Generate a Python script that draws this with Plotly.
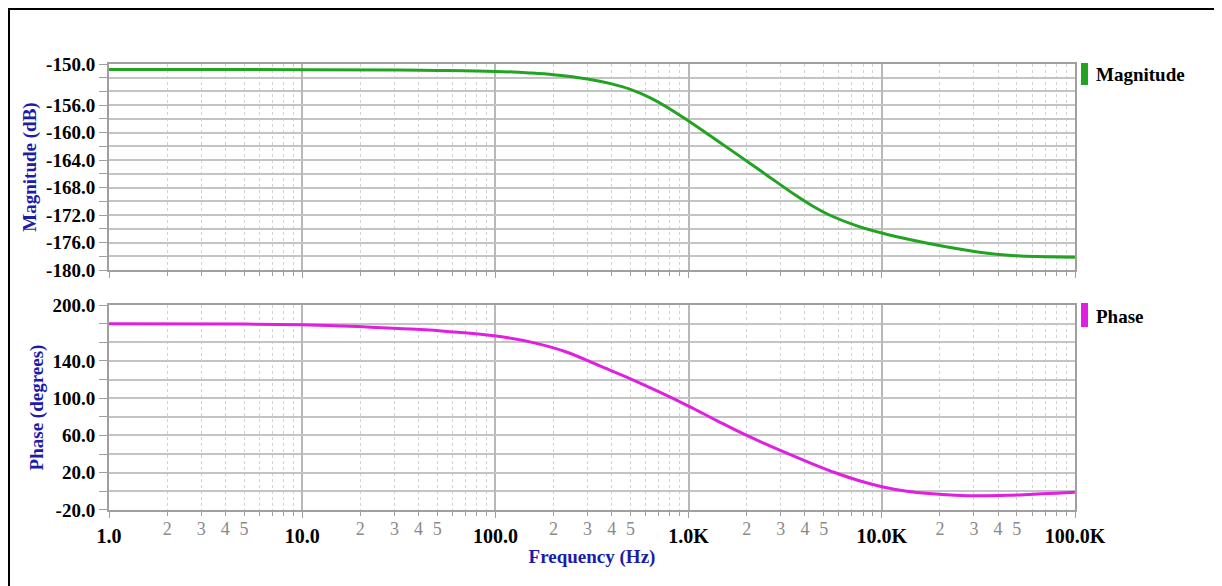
import plotly.graph_objects as go

# ---------------- data ----------------
freq_mag = [1, 10, 32, 50, 100, 150, 200, 300, 400, 500, 630, 800, 1000, 1300,
            1700, 2500, 3600, 4400, 5500, 7500, 10000, 14500, 21500, 32000,
            47000, 70000, 100000]
magnitude_db = [-150.8, -150.82, -150.87, -150.93, -151.08, -151.3, -151.55,
                -152.17, -152.9, -153.7, -154.9, -156.54, -158.3, -160.49,
                -162.76, -166.04, -169.15, -170.7, -172.13, -173.6, -174.6,
                -175.65, -176.6, -177.4, -177.88, -178.05, -178.15]

freq_phase = [1, 5, 10, 16, 24, 39, 58, 101, 157, 233, 347, 500, 700, 1000,
              1400, 2000, 3200, 4500, 5800, 7500, 10000, 13500, 17600, 24000,
              32000, 45000, 58000, 80000, 100000]
phase_deg = [180, 179.6, 178.8, 177.5, 176.0, 173.9, 171.4, 166.7, 159.6, 149.6,
             134.6, 120.8, 107.0, 91.5, 76.0, 60.0, 41.2, 28.5, 19.7, 11.9, 5.0,
             0.1, -2.4, -4.2, -4.8, -4.3, -3.3, -1.9, -1.0]

decades = [1, 10, 100, 1000, 10000, 100000]
decade_labels = ["1.0", "10.0", "100.0", "1.0K", "10.0K", "100.0K"]
minor_multipliers = [2, 3, 4, 5, 6, 7, 8, 9]
labelled_multipliers = [2, 3, 4, 5]

mag_ticks = [-180, -176, -172, -168, -164, -160, -156, -150]
mag_grid = list(range(-180, -149, 2))
phase_ticks = [-20, 20, 60, 100, 140, 200]
phase_grid = list(range(-20, 201, 20))

# ---------------- styling ----------------
FONT = "Liberation Serif"
GREEN = "#22a322"
MAGENTA = "#e01fe0"
NAVY = "#1c1ca8"
GRID = "#c4c4c4"
AXIS = "#a0a0a0"

minor_vals = [d * m for d in decades[:-1] for m in minor_multipliers]
minor_lbl_vals = [d * m for d in decades[:-1] for m in labelled_multipliers]
minor_lbl_text = [str(m) for d in decades[:-1] for m in labelled_multipliers]

fig = go.Figure()
fig.add_trace(go.Scatter(x=freq_mag, y=magnitude_db, mode="lines",
                         line=dict(color=GREEN, width=3, shape="spline", smoothing=1.0),
                         xaxis="x", yaxis="y", showlegend=False, hoverinfo="skip"))
fig.add_trace(go.Scatter(x=freq_phase, y=phase_deg, mode="lines",
                         line=dict(color=MAGENTA, width=3, shape="spline", smoothing=1.0),
                         xaxis="x2", yaxis="y2", showlegend=False, hoverinfo="skip"))
# carrier trace for the overlay axis that holds the grey minor labels
fig.add_trace(go.Scatter(x=[decades[0], decades[-1]], y=[None, None], mode="lines",
                         xaxis="x3", yaxis="y2", showlegend=False, hoverinfo="skip"))

def xaxis_common():
    return dict(
        type="log", range=[0, 5],
        tickvals=decades, showgrid=True, gridcolor="#b8b8b8", gridwidth=2,
        ticks="outside", ticklen=6, tickcolor=AXIS, tickwidth=1,
        showline=True, linecolor=AXIS, linewidth=2, mirror=True,
        zeroline=False,
        minor=dict(tickvals=minor_vals, showgrid=True, gridcolor="#d2d2d2",
                   griddash="dot", gridwidth=1, ticks="outside", ticklen=4,
                   tickcolor=AXIS),
    )

xa1 = xaxis_common()
xa1.update(anchor="y", showticklabels=False)
xa2 = xaxis_common()
xa2.update(anchor="y2", ticktext=decade_labels, ticklabelstandoff=1,
           tickfont=dict(family=FONT, size=20, color="black", weight="bold"),
           title=dict(text="<b>Frequency (Hz)</b>", standoff=4,
                      font=dict(family=FONT, size=19, color=NAVY)))
xa3 = dict(type="log", range=[0, 5], overlaying="x2", anchor="y2", side="bottom",
           tickvals=minor_lbl_vals, ticktext=minor_lbl_text, ticks="",
           showgrid=False, showline=False, zeroline=False, ticklabelstandoff=6,
           tickfont=dict(family=FONT, size=18, color="#8a8a8a"))

def yaxis_common(rng, ticks, grid):
    return dict(
        range=rng, tickvals=ticks, ticktext=[f"{v:.1f}" for v in ticks],
        showgrid=True, gridcolor=GRID, gridwidth=2,
        ticks="outside", ticklen=8, tickcolor=AXIS,
        showline=True, linecolor=AXIS, linewidth=2, mirror=True, zeroline=False,
        tickfont=dict(family=FONT, size=19, color="black", weight="bold"),
        minor=dict(tickvals=grid, showgrid=True, gridcolor=GRID, gridwidth=2,
                   ticks="outside", ticklen=8, tickcolor=AXIS),
    )

ya1 = yaxis_common([-180, -150], mag_ticks, mag_grid)
ya1.update(domain=[0.538, 1.0], anchor="x",
           title=dict(text="<b>Magnitude (dB)</b>", standoff=4,
                      font=dict(family=FONT, size=19, color=NAVY)))
ya2 = yaxis_common([-20, 200], phase_ticks, phase_grid)
ya2.update(domain=[0.0, 0.4596], anchor="x2",
           title=dict(text="<b>Phase (degrees)</b>", standoff=4,
                      font=dict(family=FONT, size=19, color=NAVY)))

# The page body has an 8px margin, so the figure is offset by 8px.
OFF = 8
FIG_W, FIG_H = 1222 - OFF, 586 - OFF
PLOT_L, PLOT_R, PLOT_T, PLOT_B = 109, 1075, 64, 510   # page pixels
L = PLOT_L - OFF
T = PLOT_T - OFF
R = FIG_W - (PLOT_R - OFF)
B = FIG_H - (PLOT_B - OFF)
W = PLOT_R - PLOT_L
H = PLOT_B - PLOT_T

def px(x):
    return (x - PLOT_L) / W
def py(y):
    return (PLOT_B - y) / H

shapes = [
    dict(type="rect", xref="paper", yref="paper", x0=px(9), x1=px(1216),
         y0=py(600), y1=py(9), line=dict(color="black", width=2),
         fillcolor="rgba(0,0,0,0)", layer="above"),
    dict(type="rect", xref="paper", yref="paper", x0=px(1081), x1=px(1088),
         y0=py(85), y1=py(63), line=dict(width=0), fillcolor=GREEN),
    dict(type="rect", xref="paper", yref="paper", x0=px(1081), x1=px(1088),
         y0=py(327), y1=py(303), line=dict(width=0), fillcolor=MAGENTA),
]
annotations = [
    dict(text="<b>Magnitude</b>", xref="paper", yref="paper", x=px(1094), y=py(75),
         xanchor="left", yanchor="middle", showarrow=False,
         font=dict(family=FONT, size=19, color="black")),
    dict(text="<b>Phase</b>", xref="paper", yref="paper", x=px(1094), y=py(316),
         xanchor="left", yanchor="middle", showarrow=False,
         font=dict(family=FONT, size=19, color="black")),
]

fig.update_layout(
    width=FIG_W, height=FIG_H,
    margin=dict(l=L, r=R, t=T, b=B, autoexpand=False),
    paper_bgcolor="white", plot_bgcolor="white",
    xaxis=xa1, xaxis2=xa2, xaxis3=xa3, yaxis=ya1, yaxis2=ya2,
    shapes=shapes, annotations=annotations, showlegend=False,
)

fig.write_html("out.html")
